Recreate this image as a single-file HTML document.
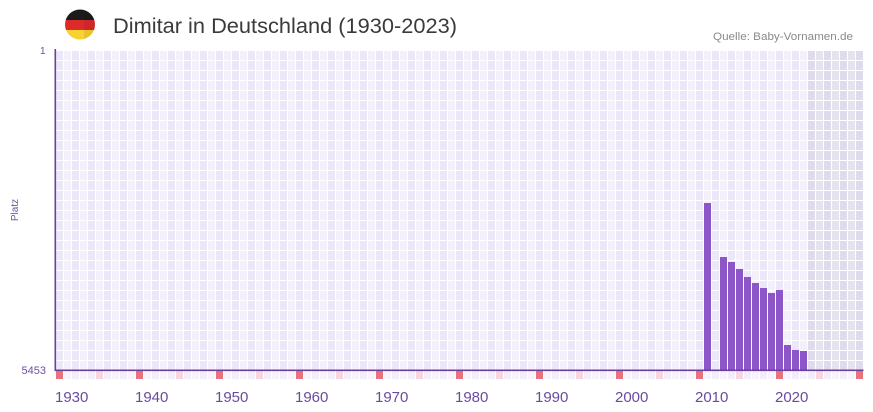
<!DOCTYPE html>
<html><head><meta charset="utf-8"><style>
html,body{margin:0;padding:0;background:#fff;}
svg{display:block;}
text{font-family:"Liberation Sans","DejaVu Sans",sans-serif;}
</style></head><body>
<svg width="873" height="412" viewBox="0 0 873 412" xmlns="http://www.w3.org/2000/svg">
<defs>
<pattern id="g" x="56" y="51" width="16" height="10" patternUnits="userSpaceOnUse">
<rect x="0" y="0" width="7" height="9" fill="#ece7f8"/>
<rect x="8" y="0" width="7" height="9" fill="#f3f0fb"/>
</pattern>
<pattern id="gs" x="56" y="51" width="16" height="10" patternUnits="userSpaceOnUse">
<rect x="0" y="0" width="7" height="9" fill="#dfdbec"/>
<rect x="8" y="0" width="7" height="9" fill="#e6e3f0"/>
</pattern>
<pattern id="gb" x="56" y="0" width="16" height="412" patternUnits="userSpaceOnUse">
<rect x="0" y="371" width="7" height="8" fill="#f1edfb"/>
<rect x="8" y="371" width="7" height="8" fill="#f6f3fd"/>
</pattern>
<clipPath id="fc"><circle cx="80" cy="24.5" r="15"/></clipPath>
</defs>
<rect width="873" height="412" fill="#fff"/>
<!-- flag -->
<g clip-path="url(#fc)">
<rect x="64" y="9" width="32" height="11" fill="#1b1b1b"/>
<rect x="64" y="20" width="32" height="10" fill="#dd2b2b"/>
<rect x="64" y="30" width="32" height="11" fill="#f8d231"/>
<rect x="84" y="9" width="12" height="32" fill="#000" opacity="0.07"/>
</g>
<text x="113" y="33" font-size="21" fill="#3a3a3a" textLength="344" lengthAdjust="spacingAndGlyphs">Dimitar in Deutschland (1930-2023)</text>
<text x="853" y="40" font-size="11" fill="#8a8a8a" text-anchor="end" textLength="140" lengthAdjust="spacingAndGlyphs">Quelle: Baby-Vornamen.de</text>
<!-- grid -->
<rect x="56" y="50" width="752" height="320" fill="url(#g)"/>
<rect x="808" y="50" width="55" height="320" fill="url(#gs)"/>
<!-- bottom marker row -->
<rect x="56" y="371" width="807" height="8" fill="url(#gb)"/>
<g fill="#e8737f">
<rect x="56" y="371" width="7" height="8"/><rect x="136" y="371" width="7" height="8"/><rect x="216" y="371" width="7" height="8"/><rect x="296" y="371" width="7" height="8"/><rect x="376" y="371" width="7" height="8"/><rect x="456" y="371" width="7" height="8"/><rect x="536" y="371" width="7" height="8"/><rect x="616" y="371" width="7" height="8"/><rect x="696" y="371" width="7" height="8"/><rect x="776" y="371" width="7" height="8"/><rect x="856" y="371" width="7" height="8"/>
</g>
<g fill="#f6d6e0">
<rect x="96" y="371" width="7" height="8"/><rect x="176" y="371" width="7" height="8"/><rect x="256" y="371" width="7" height="8"/><rect x="336" y="371" width="7" height="8"/><rect x="416" y="371" width="7" height="8"/><rect x="496" y="371" width="7" height="8"/><rect x="576" y="371" width="7" height="8"/><rect x="656" y="371" width="7" height="8"/><rect x="736" y="371" width="7" height="8"/><rect x="816" y="371" width="7" height="8"/>
</g>
<!-- bars -->
<g fill="#8c56c8">
<rect x="704" y="203" width="7" height="167"/>
<rect x="720" y="257" width="7" height="113"/>
<rect x="728" y="262" width="7" height="108"/>
<rect x="736" y="269" width="7" height="101"/>
<rect x="744" y="277" width="7" height="93"/>
<rect x="752" y="283" width="7" height="87"/>
<rect x="760" y="288" width="7" height="82"/>
<rect x="768" y="293" width="7" height="77"/>
<rect x="776" y="290" width="7" height="80"/>
<rect x="784" y="345" width="7" height="25"/>
<rect x="792" y="350" width="7" height="20"/>
<rect x="800" y="351" width="7" height="19"/>
</g>
<!-- axes -->
<rect x="54.5" y="49" width="1.6" height="322" fill="#6a3f9e"/>
<rect x="54.5" y="369.5" width="809" height="1.6" fill="#6a3f9e"/>
<!-- y labels -->
<text x="45.5" y="54" font-size="10" fill="#6b50a0" text-anchor="end">1</text>
<text x="46" y="374" font-size="11" fill="#6b50a0" text-anchor="end">5453</text>
<text transform="translate(18,210) rotate(-90)" font-size="10" fill="#6b50a0" text-anchor="middle">Platz</text>
<!-- x labels -->
<g font-size="15" fill="#6a4a9e">
<text x="55" y="402">1930</text>
<text x="135" y="402">1940</text>
<text x="215" y="402">1950</text>
<text x="295" y="402">1960</text>
<text x="375" y="402">1970</text>
<text x="455" y="402">1980</text>
<text x="535" y="402">1990</text>
<text x="615" y="402">2000</text>
<text x="695" y="402">2010</text>
<text x="775" y="402">2020</text>
</g>
</svg>
</body></html>
